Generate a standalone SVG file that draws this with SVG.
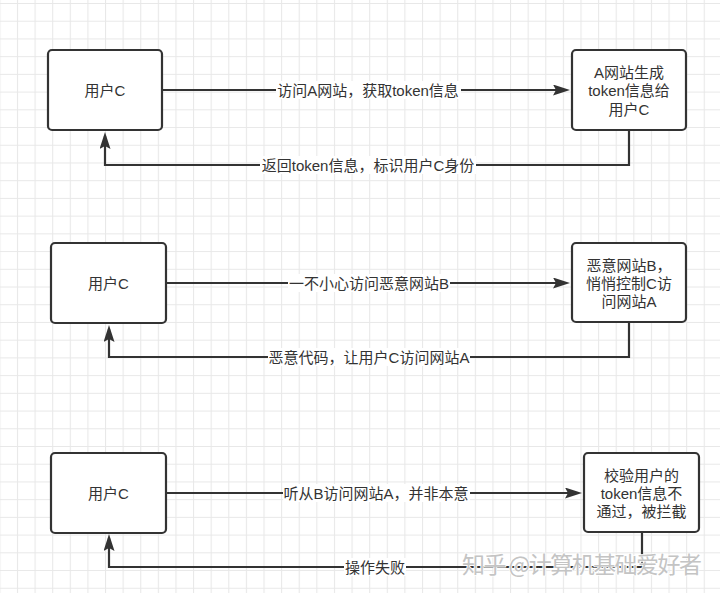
<svg xmlns="http://www.w3.org/2000/svg" width="720" height="593" viewBox="0 0 720 593">
<style>
.box{fill:#fff;stroke:#333;stroke-width:2.2}
.t{font-family:"Liberation Sans","Noto Sans CJK SC",sans-serif;font-size:15px;fill:#333;text-anchor:middle;dominant-baseline:central}
.edge{fill:none;stroke:#333;stroke-width:2.2}
.lbg{fill:#fff}
.wm{font-family:"Noto Sans CJK SC",sans-serif;font-size:23px;fill:#c4c4c4;stroke:#fff;stroke-width:1.6;paint-order:stroke}
</style>
<defs>
<pattern id="grid" patternUnits="userSpaceOnUse" x="-0.66" y="3" width="17.61" height="17.72">
<path d="M0.5,0 V17.72 M0,0.5 H17.61" fill="none" stroke="#e8e8e8" stroke-width="1.2"/>
</pattern>
<marker id="arr" markerUnits="userSpaceOnUse" viewBox="0 0 17 11" refX="13" refY="5.5" markerWidth="17" markerHeight="11" orient="auto">
<path d="M0,0 L17,5.5 L0,11 L3,5.5 Z" fill="#333"/>
</marker>
</defs>
<rect width="720" height="593" fill="#fff"/>
<rect width="720" height="593" fill="url(#grid)"/>

<g id="connectors">
<path class="edge" d="M162,90 H566" marker-end="url(#arr)"/>
<path class="edge" d="M629,130 V165 H105 V136" marker-end="url(#arr)"/>
<path class="edge" d="M166,283 H566" marker-end="url(#arr)"/>
<path class="edge" d="M629,322 V357 H109 V329" marker-end="url(#arr)"/>
<path class="edge" d="M166,493 H578" marker-end="url(#arr)"/>
<path class="edge" d="M642,532 V567 H109 V538" marker-end="url(#arr)"/>
<rect class="lbg" x="276" y="81" width="185" height="18"/>
<text class="t" x="368" y="90">访问A网站，获取token信息</text>
<rect class="lbg" x="260" y="156" width="216" height="18"/>
<text class="t" x="368" y="165">返回token信息，标识用户C身份</text>
<rect class="lbg" x="288" y="274" width="162" height="18"/>
<text class="t" x="369" y="283">一不小心访问恶意网站B</text>
<rect class="lbg" x="268" y="348" width="202" height="18"/>
<text class="t" x="369" y="357">恶意代码，让用户C访问网站A</text>
<rect class="lbg" x="283" y="484" width="187" height="18"/>
<text class="t" x="376" y="493">听从B访问网站A，并非本意</text>
<rect class="lbg" x="344" y="558" width="62" height="18"/>
<text class="t" x="375" y="567">操作失败</text>
</g>

<g id="userC1">
<rect class="box" x="48" y="50" width="114" height="80" rx="4"/>
<text class="t" x="105" y="90">用户C</text>
</g>
<g id="siteA1">
<rect class="box" x="572" y="50" width="114" height="80" rx="4"/>
<text class="t" x="629" y="72">A网站生成</text>
<text class="t" x="629" y="90.5">token信息给</text>
<text class="t" x="629" y="109">用户C</text>
</g>

<g id="userC2">
<rect class="box" x="51" y="243" width="115" height="80" rx="4"/>
<text class="t" x="108.5" y="283">用户C</text>
</g>
<g id="siteB">
<rect class="box" x="572" y="243" width="114" height="79" rx="4"/>
<text class="t" x="629" y="265">恶意网站B，</text>
<text class="t" x="629" y="283.3">悄悄控制C访</text>
<text class="t" x="629" y="301.6">问网站A</text>
</g>

<g id="userC3">
<rect class="box" x="51" y="453" width="115" height="80" rx="4"/>
<text class="t" x="108.5" y="493">用户C</text>
</g>
<g id="siteA3">
<rect class="box" x="584" y="453" width="115" height="79" rx="4"/>
<text class="t" x="641.5" y="475">校验用户的</text>
<text class="t" x="641.5" y="493.3">token信息不</text>
<text class="t" x="641.5" y="511.6">通过，被拦截</text>
</g>

<text class="wm" x="462" y="573" textLength="240" lengthAdjust="spacing">知乎 @计算机基础爱好者</text>
</svg>
